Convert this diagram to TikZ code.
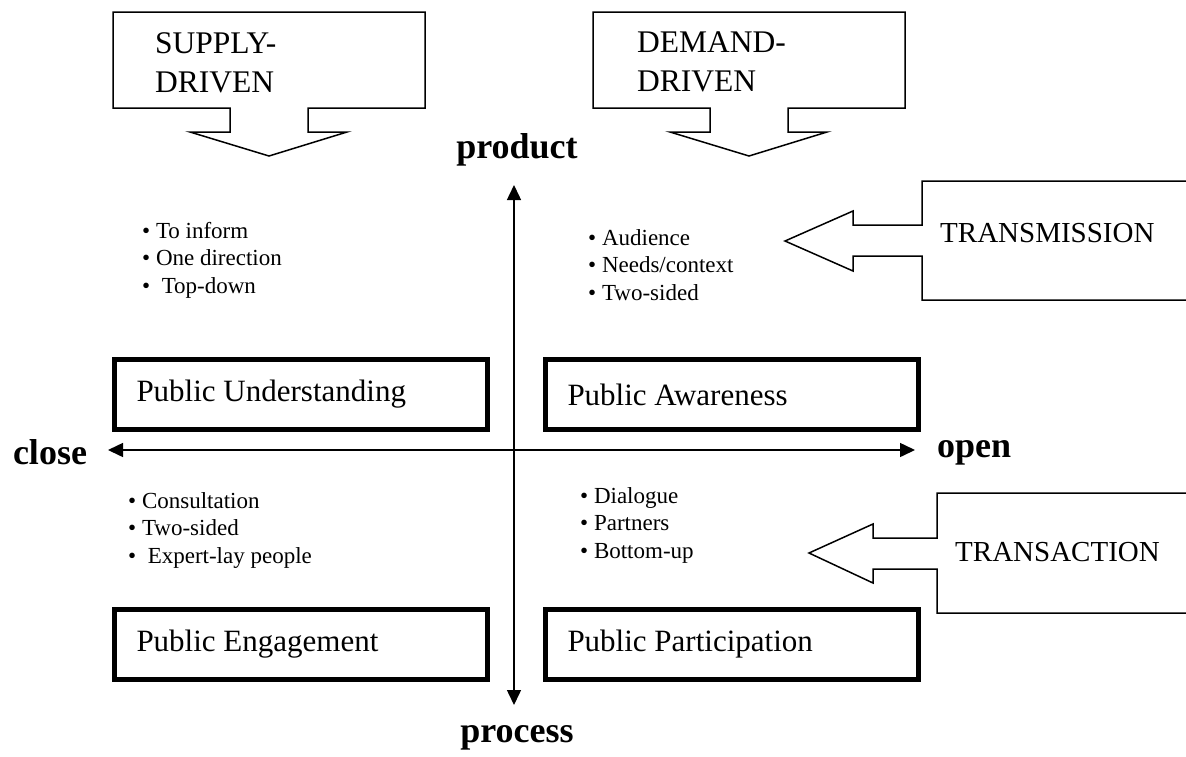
\documentclass[tikz,border=0pt]{standalone}
\usepackage{fontspec}
\setmainfont{Liberation Serif}
\usetikzlibrary{arrows.meta}
\usetikzlibrary{math}

\tikzset{
  callout/.style={line width=1.5pt, line join=miter},
  quadbox/.style={draw, line width=5pt, minimum width=373pt, minimum height=70pt,
    text width=329pt, align=flush left, inner xsep=22pt, font=\fontsize{31}{36}\selectfont},
  axis/.style={line width=1.5pt,
    {Triangle[length=15pt,width=14pt]}-{Triangle[length=15pt,width=14pt]}},
  axislabel/.style={font=\fontsize{36}{40}\selectfont\bfseries, inner sep=0pt},
  calloutlabel/.style={font=\fontsize{29}{39}\selectfont, align=left, inner sep=0pt},
  drivelabel/.style={calloutlabel, font=\fontsize{31.5}{39}\selectfont, anchor=north west},
  bulletline/.style={font=\fontsize{23}{27}\selectfont, anchor=base west, inner sep=0pt},
}

\begin{document}
\begin{tikzpicture}[x=1pt,y=-1pt]

  \tikzmath{
    \ax   = 514;  % x of the vertical axis
    \ay   = 450;  % y of the horizontal axis
    \gap  = 27.5; % distance between bullet lines
    \dx   = 480;  % shift of the second down arrow
  }

  \useasboundingbox (0,0) rectangle (1186,756);
  \clip (0,0) rectangle (1186,756);

  % axes
  \coordinate (N) at (\ax,185);
  \coordinate (S) at (\ax,705);
  \coordinate (W) at (108,\ay);
  \coordinate (E) at (915,\ay);
  \draw[axis] (W) -- (E);
  \draw[axis] (S) -- (N);

  \node[axislabel] (product) at (517,150) {product};
  \node[axislabel] (process) at (517,738) {process};
  \node[axislabel] (close)   at (50,452)  {close};
  \node[axislabel] (open)    at (974,453) {open};

  % the four quadrants
  \node[quadbox] (understanding) at (301,394.5) {Public Understanding};
  \node[quadbox] (awareness)     at (732,394.5) {Public Awareness};
  \node[quadbox] (engagement)    at (301,644.5) {Public Engagement};
  \node[quadbox] (participation) at (732,644.5) {Public Participation};

  % down arrows on top
  \draw[callout] (113,12) -- (425,12) -- (425,108) -- (308,108) -- (308,132)
    -- (347,132) -- (269,156) -- (190,132) -- (230,132) -- (230,108)
    -- (113,108) -- cycle;
  \node[drivelabel] (supply) at (155,32) {SUPPLY-\\DRIVEN};

  \begin{scope}[shift={(\dx,0)}]
    \draw[callout] (113,12) -- (425,12) -- (425,108) -- (308,108) -- (308,132)
      -- (347,132) -- (269,156) -- (190,132) -- (230,132) -- (230,108)
      -- (113,108) -- cycle;
    \node[drivelabel] (demand) at (157,32) {DEMAND-\\DRIVEN};
  \end{scope}

  % left arrows on the right side
  \draw[callout] (1195,181) -- (922,181) -- (922,225) -- (853,225) -- (853,211)
    -- (785,241) -- (853,271) -- (853,256) -- (922,256) -- (922,300) -- (1195,300);
  \node[calloutlabel, anchor=west] (transmission) at (940,233) {TRANSMISSION};

  \draw[callout] (1195,493) -- (937,493) -- (937,538) -- (873,538) -- (873,524)
    -- (809,553) -- (873,583) -- (873,569) -- (937,569) -- (937,613) -- (1195,613);
  \node[calloutlabel, anchor=west] (transaction) at (955,552) {TRANSACTION};

  % bullet lists
  \foreach \txt [count=\i from 0] in {To inform, One direction, {\ Top-down}}
    \node[bulletline] (inform\i) at (142,{238+\gap*\i}) {\textbullet\ \txt};
  \foreach \txt [count=\i from 0] in {Audience, Needs/context, Two-sided}
    \node[bulletline] (audience\i) at (588,{245+\gap*\i}) {\textbullet\ \txt};
  \foreach \txt [count=\i from 0] in {Consultation, Two-sided, {\ Expert-lay people}}
    \node[bulletline] (consult\i) at (128,{508+\gap*\i}) {\textbullet\ \txt};
  \foreach \txt [count=\i from 0] in {Dialogue, Partners, Bottom-up}
    \node[bulletline] (dialogue\i) at (580,{503+\gap*\i}) {\textbullet\ \txt};

\end{tikzpicture}
\end{document}
